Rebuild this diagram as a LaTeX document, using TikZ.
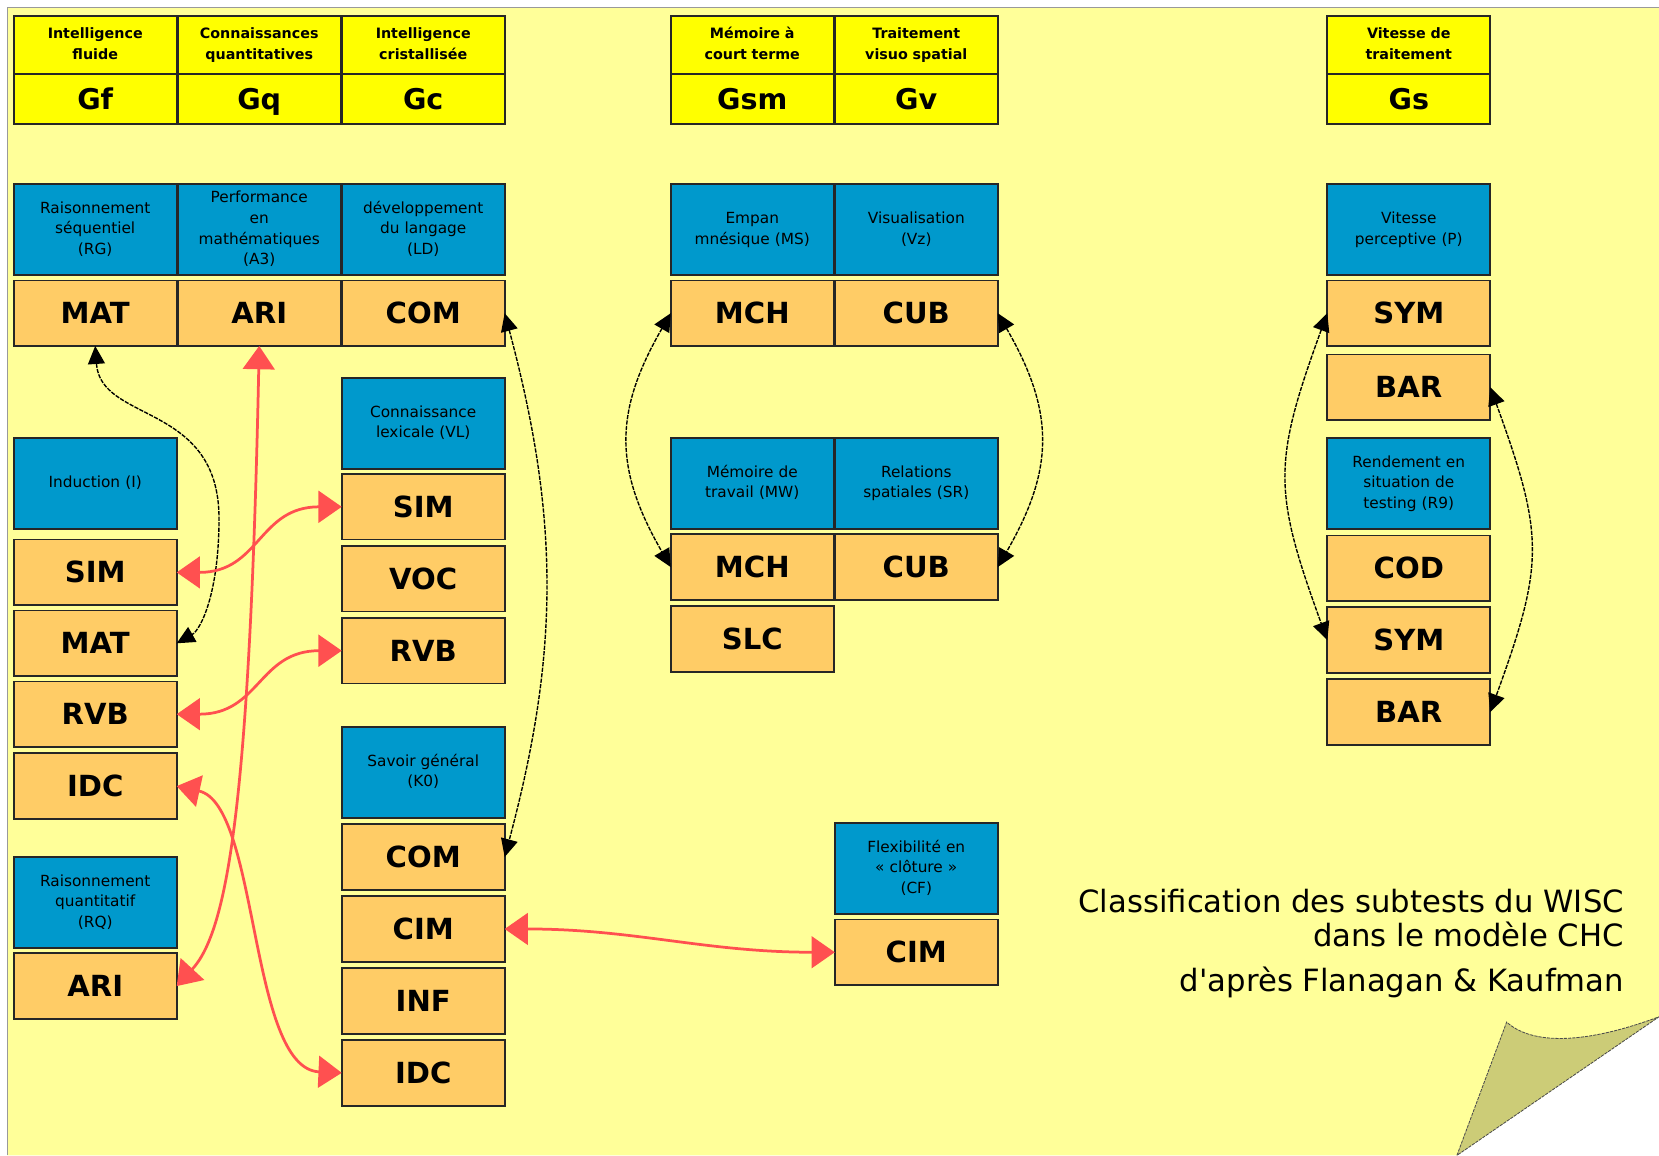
\documentclass[tikz,border=0pt]{standalone}
\usepackage{fontspec}
\setmainfont{DejaVu Sans}
\usepackage[dvipsnames]{xcolor}
\usetikzlibrary{arrows.meta,positioning}

\definecolor{pageyellow}{HTML}{FFFF99}
\definecolor{titleyellow}{HTML}{FFFF00}
\definecolor{skillblue}{HTML}{0099CC}
\definecolor{testorange}{HTML}{FFCC66}
\definecolor{linkred}{HTML}{FF5050}
\definecolor{foldolive}{HTML}{CCCC77}

\begin{document}
\begin{tikzpicture}[
	x=1pt, y=1pt,
	boxbase/.style={
		draw=black!85,
		line width=1.6pt,
		text width=148pt,
		align=center,
		inner sep=3pt,
		outer sep=0pt},
	toptitle/.style={boxbase, fill=titleyellow, minimum height=55pt,
		execute at begin node=\strut, execute at end node=\strut,
		font=\fontsize{13.5}{19}\selectfont\bfseries},
	topcode/.style={boxbase, fill=titleyellow, minimum height=47pt,
		text height=19.7pt, text depth=0pt, font=\fontsize{27}{30}\selectfont\bfseries},
	skillbox/.style={boxbase, fill=skillblue, minimum height=86pt,
		execute at begin node=\strut, execute at end node=\strut,
		font=\fontsize{14.5}{19.5}\selectfont},
	testbox/.style={boxbase, fill=testorange, minimum height=62pt,
		text height=20pt, text depth=0pt, font=\fontsize{27.5}{30}\selectfont\bfseries},
	notetext/.style={anchor=base east, inner sep=0pt, font=\fontsize{29}{33}\selectfont},
	redarrow/.style={{Triangle[length=22pt,width=30pt]}-{Triangle[length=22pt,width=30pt]}, draw=linkred, line width=2.6pt},
	blackarrow/.style={{Triangle[length=17pt,width=16pt]}-{Triangle[length=17pt,width=16pt]}, line width=1.3pt, dash pattern=on 4pt off 1.2pt},
	node distance=6pt
	]
	\useasboundingbox (0,0) rectangle (1568,-1092);
	
	% page with folded corner
	\fill[white] (0,0) rectangle (1568,-1092);
	\fill[pageyellow] (7,-7) -- (1568,-7) -- (1568,-961) -- (1377,-1092) -- (7,-1092) -- cycle;
	\draw[black!40, line width=1.5pt] (7,-1092) -- (7,-7) -- (1568,-7);
	\filldraw[fill=foldolive, draw=black!70, line width=0.8pt, dash pattern=on 3pt off 1pt]
		(1377,-1092) -- (1424,-966) .. controls (1445,-985) and (1490,-990) .. (1568,-961) -- cycle;
	
	% Gf
	\node[toptitle, anchor=north] (tGf) at (90,-15) {Intelligence\\fluide};
	\node[topcode, below=0pt of tGf] (cGf) {Gf};
	\node[skillbox, below=57pt of cGf] (sRG) {Raisonnement\\séquentiel\\(RG)};
	\node[testbox, below=5pt of sRG] (mat1) {MAT};
	\node[skillbox, below=87pt of mat1] (sI) {Induction (I)};
	\node[testbox, below=10pt of sI] (sim1) {SIM};
	\node[testbox, below=5pt of sim1] (mat2) {MAT};
	\node[testbox, below=5pt of mat2] (rvb1) {RVB};
	\node[testbox, below=of rvb1] (idc1) {IDC};
	\node[skillbox, below=36pt of idc1] (sRQ) {Raisonnement\\quantitatif\\(RQ)};
	\node[testbox, below=5pt of sRQ] (ari2) {ARI};
	
	% Gq
	\node[toptitle, right=1pt of tGf] (tGq) {Connaissances\\quantitatives};
	\node[topcode, below=0pt of tGq] (cGq) {Gq};
	\node[skillbox, below=57pt of cGq] (sA3) {Performance\\en\\mathématiques\\(A3)};
	\node[testbox, below=5pt of sA3] (ari1) {ARI};
	
	% Gc
	\node[toptitle, right=1pt of tGq] (tGc) {Intelligence\\cristallisée};
	\node[topcode, below=0pt of tGc] (cGc) {Gc};
	\node[skillbox, below=57pt of cGc] (sLD) {développement\\du langage\\(LD)};
	\node[testbox, below=5pt of sLD] (com1) {COM};
	\node[skillbox, below=30pt of com1] (sVL) {Connaissance\\lexicale (VL)};
	\node[testbox, below=5pt of sVL] (sim3) {SIM};
	\node[testbox, below=of sim3] (voc) {VOC};
	\node[testbox, below=of voc] (rvb3) {RVB};
	\node[skillbox, below=41pt of rvb3] (sK0) {Savoir général\\(K0)};
	\node[testbox, below=of sK0] (com2) {COM};
	\node[testbox, below=of com2] (cim3) {CIM};
	\node[testbox, below=of cim3] (inf) {INF};
	\node[testbox, below=of inf] (idc3) {IDC};
	
	% Gsm
	\node[toptitle, anchor=north] (tGsm) at (711,-15) {Mémoire à\\court terme};
	\node[topcode, below=0pt of tGsm] (cGsm) {Gsm};
	\node[skillbox, below=57pt of cGsm] (sMS) {Empan\\mnésique (MS)};
	\node[testbox, below=5pt of sMS] (mch1) {MCH};
	\node[skillbox, below=87pt of mch1] (sMW) {Mémoire de\\travail (MW)};
	\node[testbox, below=5pt of sMW] (mch2) {MCH};
	\node[testbox, below=of mch2] (slc) {SLC};
	
	% Gv
	\node[toptitle, right=1pt of tGsm] (tGv) {Traitement\\visuo spatial};
	\node[topcode, below=0pt of tGv] (cGv) {Gv};
	\node[skillbox, below=57pt of cGv] (sVz) {Visualisation\\(Vz)};
	\node[testbox, below=5pt of sVz] (cub1) {CUB};
	\node[skillbox, below=87pt of cub1] (sSR) {Relations\\spatiales (SR)};
	\node[testbox, below=5pt of sSR] (cub2) {CUB};
	\node[skillbox, below=211pt of cub2] (sCF) {Flexibilité en\\« clôture »\\(CF)};
	\node[testbox, below=5pt of sCF] (cim5) {CIM};
	
	% Gs
	\node[toptitle, anchor=north] (tGs) at (1331.5,-15) {Vitesse de\\traitement};
	\node[topcode, below=0pt of tGs] (cGs) {Gs};
	\node[skillbox, below=57pt of cGs] (sP) {Vitesse\\perceptive (P)};
	\node[testbox, below=5pt of sP] (sym1) {SYM};
	\node[testbox, below=8pt of sym1] (bar1) {BAR};
	\node[skillbox, below=17pt of bar1] (sR9) {Rendement en\\situation de\\testing (R9)};
	\node[testbox, below=of sR9] (cod) {COD};
	\node[testbox, below=of cod] (sym2) {SYM};
	\node[testbox, below=of sym2] (bar2) {BAR};
	
	\node[notetext] (note1) at (1535,-862) {Classification des subtests du WISC};
	\node[notetext] (note2) at (1535,-895) {dans le modèle CHC};
	\node[notetext] (note3) at (1535,-937) {d\textquotesingle après Flanagan \& Kaufman};
	
	% same subtest, same factor
	\draw[blackarrow] (mat1.south) .. controls (95,-400) and (207,-380) .. (207,-490)
		.. controls (207,-560) and (190,-595) .. (mat2.east);
	\draw[blackarrow] (com1.east) to[out=-75,in=75] (com2.east);
	\draw[blackarrow] (mch1.west) to[out=-120,in=120,looseness=1.15] (mch2.west);
	\draw[blackarrow] (cub1.east) to[out=-60,in=60,looseness=1.15] (cub2.east);
	\draw[blackarrow] (sym1.west) to[out=-110,in=110,looseness=1.25] (sym2.west);
	\draw[blackarrow] (bar1.east) to[out=-70,in=70,looseness=1.25] (bar2.east);
	
	% same subtest, other factor
	\draw[redarrow] (ari1.south) .. controls (236,-760) and (215,-880) .. (ari2.east);
	\draw[redarrow] (sim1.east) to[out=0,in=180,looseness=1.2] (sim3.west);
	\draw[redarrow] (rvb1.east) to[out=0,in=180,looseness=1.2] (rvb3.west);
	\draw[redarrow] (idc1.east) .. controls (245,-760) and (235,-1010) .. (idc3.west);
	\draw[redarrow] (cim3.east) to[out=0,in=180] (cim5.west);
	
\end{tikzpicture}
\end{document}
